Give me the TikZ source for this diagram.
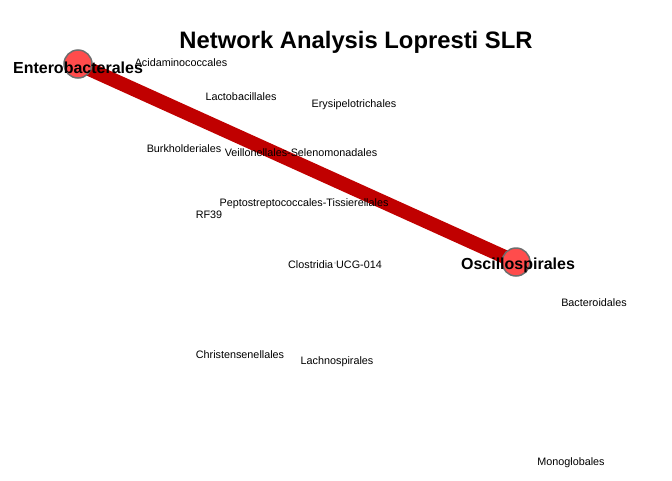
\documentclass[tikz,border=0pt]{standalone}
\usepackage{fontspec}
\setmainfont{Liberation Sans}
\usepackage{xcolor}
\usepackage{tikz}
\usetikzlibrary{positioning}
\definecolor{edgered}{RGB}{192,0,0}
\definecolor{vertred}{RGB}{255,76,76}
\definecolor{vertrim}{RGB}{110,110,110}
\tikzset{
  vertex/.style={circle, draw=vertrim, line width=1.5pt, fill=vertred,
                 minimum size=28pt, inner sep=0pt},
  dot/.style={circle, draw=gray!45, line width=0.4pt, minimum size=2.4pt, inner sep=0pt},
  hublabel/.style={font=\fontsize{16}{18}\selectfont\bfseries, inner sep=0pt, yshift=-2pt},
  taxon/.style={font=\fontsize{10.8}{12}\selectfont, inner sep=0pt, yshift=-1.5pt},
  link/.style={draw=edgered, line width=14pt},
}
\begin{document}
\begin{tikzpicture}[x=1pt, y=-1pt]
  \useasboundingbox (0,0) rectangle (672,480);
  \node[font=\fontsize{23.8}{26}\selectfont\bfseries] (title) at (356,42) {Network Analysis Lopresti SLR};

  % connected orders
  \coordinate (entero) at (78,64);
  \coordinate (oscillo) at (516,262);
  \draw[link] (entero) -- (oscillo);
  \node[vertex] (enteroV) at (entero) {};
  \node[vertex] (oscilloV) at (oscillo) {};

  % isolated orders
  \node[dot] (acid)   at (181,61)  {};
  \node[dot] (lacto)  at (241,95)  {};
  \node[dot] (erysi)  at (354,103) {};
  \node[dot] (burk)   at (184,147) {};
  \node[dot] (veil)   at (301,151) {};
  \node[dot] (pepto)  at (304,202) {};
  \node[dot] (rf)     at (209,213) {};
  \node[dot] (clos)   at (335,263) {};
  \node[dot] (bact)   at (594,301) {};
  \node[dot] (chris)  at (240,353) {};
  \node[dot] (lachno) at (337,360) {};
  \node[dot] (mono)   at (571,461) {};

  % labels
  \node[hublabel] (enteroL)  at (78,66)  {Enterobacterales};
  \node[hublabel] (oscilloL) at (518,263) {Oscillospirales};
  \node[taxon] (acidL)   at (acid)   {Acidaminococcales};
  \node[taxon] (lactoL)  at (lacto)  {Lactobacillales};
  \node[taxon] (erysiL)  at (erysi)  {Erysipelotrichales};
  \node[taxon] (burkL)   at (burk)   {Burkholderiales};
  \node[taxon] (veilL)   at (veil)   {Veillonellales-Selenomonadales};
  \node[taxon] (peptoL)  at (pepto)  {Peptostreptococcales-Tissierellales};
  \node[taxon] (rfL)     at (rf)     {RF39};
  \node[taxon] (closL)   at (clos)   {Clostridia UCG-014};
  \node[taxon] (bactL)   at (bact)   {Bacteroidales};
  \node[taxon] (chrisL)  at (chris)  {Christensenellales};
  \node[taxon] (lachnoL) at (lachno) {Lachnospirales};
  \node[taxon] (monoL)   at (mono)   {Monoglobales};
\end{tikzpicture}
\end{document}
